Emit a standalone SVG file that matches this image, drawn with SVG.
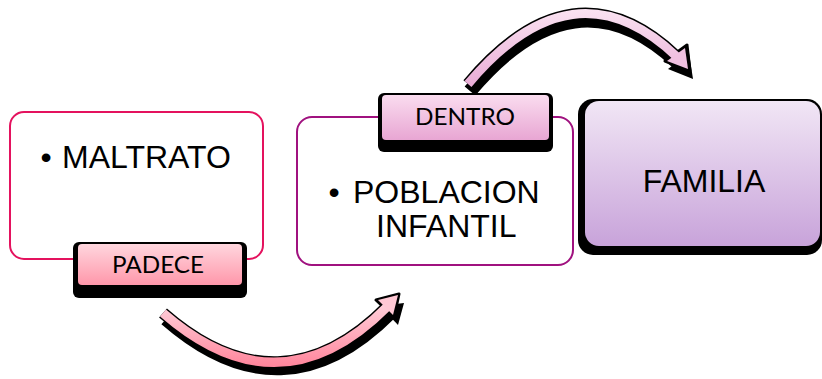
<svg xmlns="http://www.w3.org/2000/svg" width="822" height="379" viewBox="0 0 822 379">
<style>
.main{font-family:"Liberation Sans",Arial,sans-serif;font-size:32px;fill:#000}
.lbl{font-family:Lato,"Liberation Sans",sans-serif;font-size:24px;fill:#000}
.shadow{fill:#000}
.arrsh{fill:none;stroke:#000;stroke-linecap:butt}
</style>
<defs>
<linearGradient id="gPad" x1="0" y1="0" x2="0" y2="1"><stop offset="0" stop-color="#ffd6de"/><stop offset="1" stop-color="#ff97aa"/></linearGradient>
<linearGradient id="gDen" x1="0" y1="0" x2="0" y2="1"><stop offset="0" stop-color="#fadcef"/><stop offset="1" stop-color="#e8a6d3"/></linearGradient>
<linearGradient id="gFam" x1="0" y1="0" x2="0" y2="1"><stop offset="0" stop-color="#f1e6f5"/><stop offset="1" stop-color="#c8a3da"/></linearGradient>
<linearGradient id="gArrB" gradientUnits="userSpaceOnUse" x1="0" y1="300" x2="0" y2="365"><stop offset="0" stop-color="#ffd4de"/><stop offset="1" stop-color="#ff879d"/></linearGradient>
<linearGradient id="gArrT" gradientUnits="userSpaceOnUse" x1="0" y1="10" x2="0" y2="85"><stop offset="0" stop-color="#fae2f1"/><stop offset="1" stop-color="#e9acd6"/></linearGradient>
</defs>

<g id="connectors">
  <g id="arrow-bottom">
    <path class="arrsh" d="M163,313 Q280,415 388,306" stroke-width="14" transform="translate(3,6)"/>
    <polygon class="shadow" points="401,297 377,300 395,319" transform="translate(3,6)"/>
    <path class="arrsh" d="M163,313 Q280,415 388,306" stroke-width="12"/>
    <polygon points="399,294 376,300 394,317" fill="#000" stroke="#000" stroke-width="3" stroke-linejoin="round"/>
    <path d="M163,313 Q280,415 388,306" fill="none" stroke="url(#gArrB)" stroke-width="9"/>
    <polygon points="398,295 378,300 393,315" fill="#ffc8d4"/>
  </g>
  <g id="arrow-top">
    <path class="arrsh" d="M468,84 Q573,-41 676,56" stroke-width="14" transform="translate(2,7)"/>
    <polygon class="shadow" points="691,72 666,62 687,46" transform="translate(2,7)"/>
    <path class="arrsh" d="M468,84 Q573,-41 676,56" stroke-width="12"/>
    <polygon points="690,71 665,61 687,45" fill="#000" stroke="#000" stroke-width="3" stroke-linejoin="round"/>
    <path d="M468,84 Q573,-41 676,56" fill="none" stroke="url(#gArrT)" stroke-width="9"/>
    <polygon points="688,69 667,61 685,48" fill="#f0c0e0"/>
  </g>
</g>

<g id="node-maltrato">
  <rect x="10" y="112" width="253" height="147" rx="14" fill="#fff" stroke="#e4125e" stroke-width="2"/>
  <text class="main" x="46" y="168" text-anchor="middle">•</text>
  <text class="main" x="62" y="168">MALTRATO</text>
</g>

<g id="label-padece">
  <rect x="73" y="242" width="174" height="56" rx="6" class="shadow"/>
  <rect x="78" y="244" width="164" height="41" rx="4" fill="url(#gPad)"/>
  <text class="lbl" x="112" y="273" textLength="92" lengthAdjust="spacingAndGlyphs">PADECE</text>
</g>

<g id="node-poblacion">
  <rect x="297" y="117" width="276" height="148" rx="15" fill="#fff" stroke="#a0117f" stroke-width="2"/>
  <text class="main" x="334" y="203" text-anchor="middle">•</text>
  <text class="main" x="353" y="203">POBLACION</text>
  <text class="main" x="376" y="237">INFANTIL</text>
</g>

<g id="label-dentro">
  <rect x="378" y="93" width="175" height="59" rx="6" class="shadow"/>
  <rect x="382" y="95" width="167" height="45" rx="4" fill="url(#gDen)"/>
  <text class="lbl" x="415" y="125" textLength="100" lengthAdjust="spacingAndGlyphs">DENTRO</text>
</g>

<g id="node-familia">
  <rect x="578" y="99" width="244" height="156" rx="15" class="shadow"/>
  <rect x="585" y="101" width="235" height="145" rx="14" fill="url(#gFam)"/>
  <text class="main" x="704" y="192" text-anchor="middle">FAMILIA</text>
</g>
</svg>
